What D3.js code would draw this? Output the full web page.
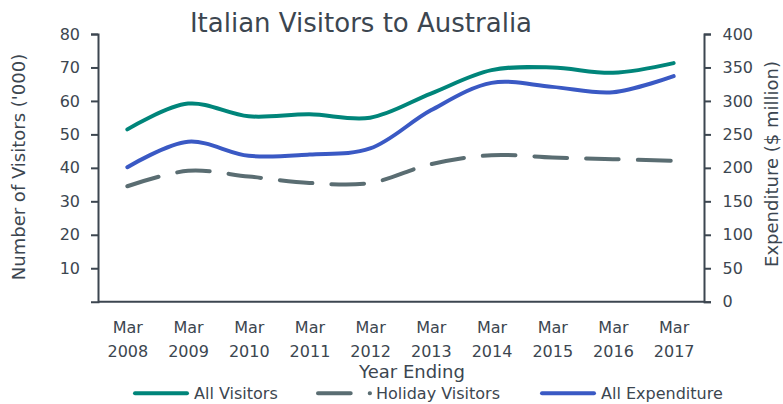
<!DOCTYPE html>
<html><head><meta charset="utf-8">
<script src="https://cdn.jsdelivr.net/npm/d3@7"></script>
<style>
html,body{margin:0;padding:0;background:#fff;}
svg{display:block;font-family:"DejaVu Sans",Verdana,sans-serif;}
</style></head>
<body><svg id="chart" width="783" height="404"></svg>
<script>
const categories = ["Mar 2008","Mar 2009","Mar 2010","Mar 2011","Mar 2012","Mar 2013","Mar 2014","Mar 2015","Mar 2016","Mar 2017"];
const allVisitors = [51.5, 59.2, 55.4, 56.0, 55.0, 62.2, 69.2, 70.0, 68.4, 71.3];
const holidayVisitors = [34.5, 39.1, 37.4, 35.5, 35.5, 41.1, 43.8, 43.1, 42.6, 42.1];
const allExpenditure = [201, 239, 218, 220, 229, 286, 327, 321, 313, 337];
const leftTicks = [10, 20, 30, 40, 50, 60, 70, 80];
const rightTicks = [0, 50, 100, 150, 200, 250, 300, 350, 400];
const seriesNames = ["All Visitors", "Holiday Visitors", "All Expenditure"];

const textCol = "#3c4650";
const axisCol = "#3c4650";
const green = "#00857a", grey = "#5a6d72", blue = "#3a59c4";

const svg = d3.select("#chart");
const x = d3.scalePoint().domain(categories).range([97, 704]).padding(0.5);
const yL = d3.scaleLinear().domain([0, 80]).range([301.7, 34]);
const yR = d3.scaleLinear().domain([0, 400]).range([301.7, 34]);

// title
svg.append("text").attr("x", 361).attr("y", 32).attr("text-anchor", "middle")
  .attr("font-size", 26).attr("fill", textCol).text("Italian Visitors to Australia");

// left axis
const gL = svg.append("g").attr("transform", "translate(98,0)")
  .call(d3.axisLeft(yL).tickValues(leftTicks).tickSize(7).tickSizeOuter(7).tickPadding(11));
// right axis
const gR = svg.append("g").attr("transform", "translate(704,0)")
  .call(d3.axisRight(yR).tickValues(rightTicks).tickSize(7).tickSizeOuter(7).tickPadding(11.5));
// bottom axis
const gB = svg.append("g").attr("transform", "translate(0,301.7)")
  .call(d3.axisBottom(x).tickSize(0).tickSizeOuter(0).tickPadding(0));
gB.select(".domain").attr("d", "M98,0H704");
gB.selectAll(".tick text").each(function(d){
  const t = d3.select(this); t.text(null).attr("y", 0).attr("dy", null);
  const parts = d.split(" ");
  t.append("tspan").attr("x", 0).attr("y", 31.5).text(parts[0]);
  t.append("tspan").attr("x", 0).attr("y", 55).text(parts[1]);
});
[gL, gR, gB].forEach(g => {
  g.selectAll(".domain").attr("stroke", axisCol).attr("stroke-width", 2);
  g.selectAll(".tick line").attr("stroke", axisCol).attr("stroke-width", 2);
  g.selectAll(".tick text").attr("fill", textCol).attr("font-size", 16)
    .attr("font-family", "DejaVu Sans, Verdana, sans-serif");
});

// axis titles
svg.append("text").attr("transform", "translate(24.5,167) rotate(-90)").attr("text-anchor", "middle")
  .attr("font-size", 18).attr("fill", textCol).text("Number of Visitors ('000)");
svg.append("text").attr("transform", "translate(777.5,164) rotate(-90)").attr("text-anchor", "middle")
  .attr("font-size", 18).attr("fill", textCol).text("Expenditure ($ million)");
svg.append("text").attr("x", 412).attr("y", 378).attr("text-anchor", "middle")
  .attr("font-size", 18).attr("fill", textCol).text("Year Ending");

// lines
const curve = d3.curveCatmullRom.alpha(0.5);
const lineL = d3.line().x((d, i) => x(categories[i])).y(d => yL(d)).curve(curve);
const lineR = d3.line().x((d, i) => x(categories[i])).y(d => yR(d)).curve(curve);
const dash = "32.7,19";
svg.append("path").attr("d", lineL(holidayVisitors)).attr("fill", "none").attr("stroke", grey)
  .attr("stroke-width", 4).attr("stroke-linecap", "round").attr("stroke-dasharray", dash);
svg.append("path").attr("d", lineR(allExpenditure)).attr("fill", "none").attr("stroke", blue)
  .attr("stroke-width", 4).attr("stroke-linecap", "round");
svg.append("path").attr("d", lineL(allVisitors)).attr("fill", "none").attr("stroke", green)
  .attr("stroke-width", 4).attr("stroke-linecap", "round");

// legend
const legend = [
  {name: seriesNames[0], col: green, x1: 135, x2: 187, tx: 194, dash: null},
  {name: seriesNames[1], col: grey, x1: 318, x2: 370, tx: 376, dash: dash},
  {name: seriesNames[2], col: blue, x1: 542, x2: 594, tx: 601, dash: null}
];
legend.forEach(l => {
  svg.append("line").attr("x1", l.x1).attr("x2", l.x2).attr("y1", 393.3).attr("y2", 393.3)
    .attr("stroke", l.col).attr("stroke-width", 4).attr("stroke-linecap", "round")
    .attr("stroke-dasharray", l.dash);
  svg.append("text").attr("x", l.tx).attr("y", 399).attr("font-size", 16).attr("fill", textCol).text(l.name);
});
</script></body></html>
